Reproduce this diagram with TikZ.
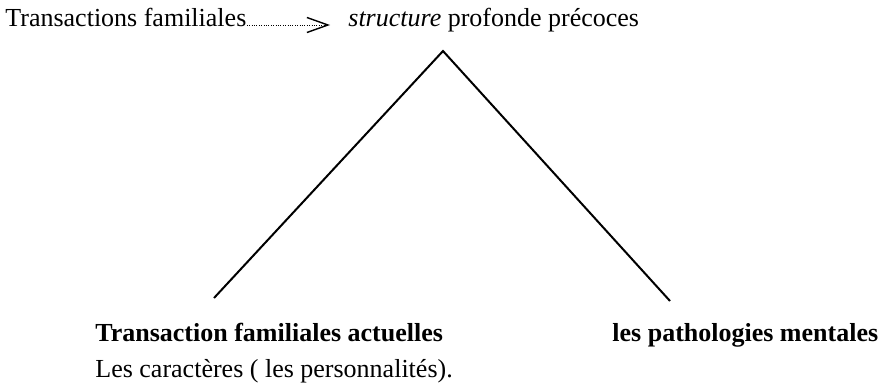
\documentclass[tikz,border=0pt]{standalone}
\usepackage{fontspec}
\setmainfont{Liberation Serif}
\usetikzlibrary{arrows.meta}
\begin{document}
\begin{tikzpicture}[x=0.5pt,y=-0.5pt,
    every node/.style={inner sep=0pt, anchor=base west, font=\fontsize{13}{16}\selectfont},
    bold/.style={font=\fontsize{13}{16}\selectfont\bfseries},
    branch/.style={line width=1pt},
    dotarrow/.style={line width=0.4pt, dash pattern=on 0.5pt off 0.7pt,
        -{Straight Barb[length=10.5pt, width=7.5pt, line width=0.7pt]}}]
        \useasboundingbox (0,0) rectangle (886,390);
        % Define nodes
        \node (T1) at (5,27) {Transactions familiales};
        \node (S1) at (348,27) {\textit{structure} profonde précoces};
        \node[bold] (A1) at (95,341) {Transaction familiales actuelles};
        \node (A2) at (95,377) {Les caractères ( les personnalités).};
        \node[bold] (P1) at (612,341) {les pathologies mentales};
        
        \coordinate (apex) at (443,51);
        \coordinate (L1) at (214,298);
        \coordinate (R1) at (670,301);
        
        % Draw edges
        \draw[dotarrow] ([yshift=1pt]T1.base east) -- ([yshift=1pt, xshift=-9pt]S1.base west);
        \draw[branch] (L1) -- (apex) -- (R1);
\end{tikzpicture}
\end{document}
